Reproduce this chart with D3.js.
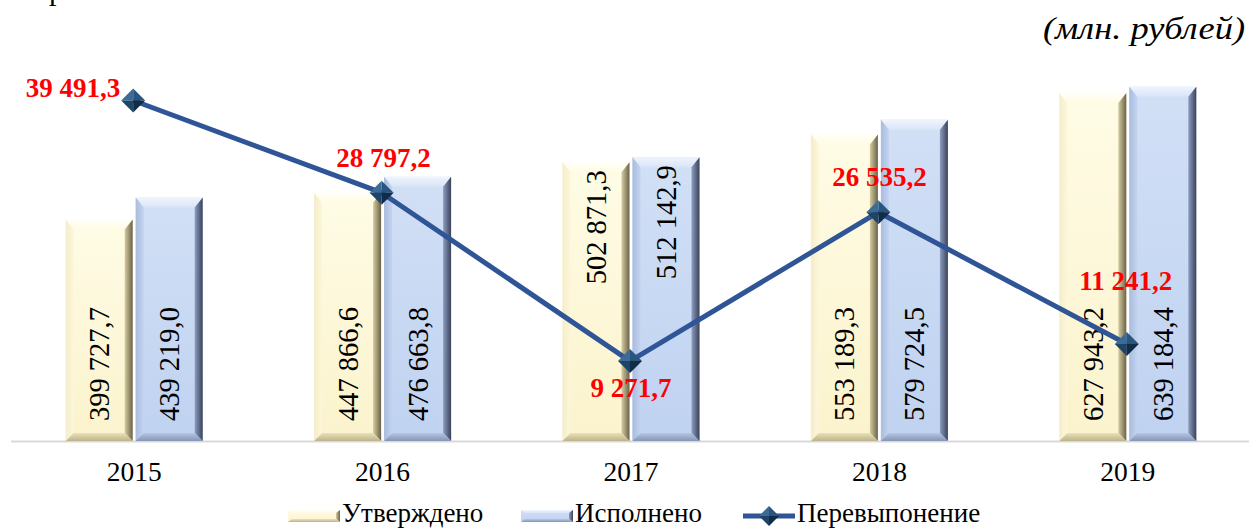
<!DOCTYPE html>
<html><head><meta charset="utf-8">
<script src="https://cdn.jsdelivr.net/npm/d3@7"></script>
<style>body{margin:0;background:#fff}svg{display:block}</style>
</head><body>
<svg id="c" width="1249" height="528"></svg>
<script>
const years = ["2015","2016","2017","2018","2019"];
const approved = [399727.7, 447866.6, 502871.3, 553189.3, 627943.2];
const executed = [439219.0, 476663.8, 512142.9, 579724.5, 639184.4];
const overrun = [39491.3, 28797.2, 9271.7, 26535.2, 11241.2];
const seriesNames = ["Утверждено", "Исполнено", "Перевыпонение"];
const unitLabel = "(млн. рублей)";

(function(){
const FONT = "'Liberation Serif', 'Times New Roman', serif";
const fmt = v => {
  const s = v.toFixed(1).split(".");
  return s[0].replace(/\B(?=(\d{3})+(?!\d))/g, " ") + "," + s[1];
};

const svg = d3.select("#c");
const base = 441, plotTop = 53;
const x = d3.scaleBand().domain(years).range([10, 1252]);
const y = d3.scaleLinear().domain([0, 700000]).range([base, plotTop]);
const y2 = d3.scaleLinear().domain([0, 45000]).range([base, plotTop]);

const defs = svg.append("defs");
function lg(id, stops, x1, y1, x2, y2v) {
  const g = defs.append("linearGradient").attr("id", id)
    .attr("x1", x1).attr("y1", y1).attr("x2", x2).attr("y2", y2v);
  stops.forEach(s => g.append("stop").attr("offset", s[0]).attr("stop-color", s[1]));
}
const pal = [
  {face:["#FFFCE6","#FBF3CC"], top:["#FFFFFA","#FFFBE2"], left:["#F4EDCB","#FDF7DA"], right:["#D6CCA0","#6A6248"], bottom:["#E9E1B8","#BDB38A"]},
  {face:["#D2E0F6","#BFD2F0"], top:["#F0F5FD","#D8E4F8"], left:["#A9BCDD","#C3D4F0"], right:["#8D9EC0","#39425A"], bottom:["#B5C6E4","#8595B5"]}
];
pal.forEach((p,i) => {
  lg("face"+i, [[0,p.face[0]],[1,p.face[1]]], 0,0,0,1);
  lg("top"+i, [[0,p.top[0]],[1,p.top[1]]], 0,0,0,1);
  lg("left"+i, [[0,p.left[0]],[1,p.left[1]]], 0,0,1,0);
  lg("right"+i, [[0,p.right[0]],[1,p.right[1]]], 0,0,1,0);
  lg("bottom"+i, [[0,p.bottom[0]],[1,p.bottom[1]]], 0,0,0,1);
});

function bevelBar(g, x0, y0, w, h, i) {
  const b = 8, bt = Math.min(10, h/2), bb = 8;
  const x1 = x0 + w, y1 = y0 + h;
  g.append("rect").attr("x", x0).attr("y", y0).attr("width", w).attr("height", h).attr("fill", `url(#face${i})`);
  g.append("polygon").attr("points", [[x0,y0],[x1,y0],[x1-b,y0+bt],[x0+b,y0+bt]].join(" ")).attr("fill", `url(#top${i})`);
  g.append("polygon").attr("points", [[x0,y0],[x0+b,y0+bt],[x0+b,y1-bb],[x0,y1]].join(" ")).attr("fill", `url(#left${i})`);
  g.append("polygon").attr("points", [[x1,y0],[x1,y1],[x1-b,y1-bb],[x1-b,y0+bt]].join(" ")).attr("fill", `url(#right${i})`);
  g.append("polygon").attr("points", [[x0,y1],[x0+b,y1-bb],[x1-b,y1-bb],[x1,y1]].join(" ")).attr("fill", `url(#bottom${i})`);
}

svg.append("line").attr("x1", 11).attr("x2", 1249).attr("y1", base+0.5).attr("y2", base+0.5)
  .attr("stroke", "#d9d9d9").attr("stroke-width", 2);

const barW = 67, gap = 1.5;
const series = [approved, executed];
const labelTop = {"2017": true};
series.forEach((vals, i) => {
  years.forEach((yr, k) => {
    const c = x(yr) + x.bandwidth()/2;
    const bx = i === 0 ? c - gap - barW : c + gap;
    const by = y(vals[k]);
    const g = svg.append("g");
    bevelBar(g, bx, by, barW, base - by, i);
    const tx = bx + barW/2;
    let t;
    if (labelTop[yr]) {
      t = g.append("text").attr("transform", `translate(${tx},${by+8}) rotate(-90)`).attr("text-anchor", "end");
    } else {
      t = g.append("text").attr("transform", `translate(${tx},${base-20}) rotate(-90)`).attr("text-anchor", "start");
    }
    t.attr("dy", "0.35em").attr("font-family", FONT)
      .attr("font-size", 28.5).attr("fill", "#000").text(fmt(vals[k]));
  });
});

years.forEach(yr => {
  svg.append("text").attr("x", x(yr) + x.bandwidth()/2).attr("y", 481)
    .attr("text-anchor", "middle").attr("font-family", FONT)
    .attr("font-size", 27.5).text(yr);
});

const pts = years.map((yr, k) => [x(yr) + x.bandwidth()/2 - 1, y2(overrun[k])]);
svg.append("path").attr("d", d3.line()(pts)).attr("fill", "none")
  .attr("stroke", "#2F5597").attr("stroke-width", 5).attr("stroke-linejoin", "round");

function diamond(g, cx, cy, r) {
  g.append("polygon").attr("points", [[cx,cy-r],[cx-r,cy],[cx,cy]].join(" ")).attr("fill", "#3C6B98");
  g.append("polygon").attr("points", [[cx,cy-r],[cx+r,cy],[cx,cy]].join(" ")).attr("fill", "#2A557F");
  g.append("polygon").attr("points", [[cx-r,cy],[cx,cy+r],[cx,cy]].join(" ")).attr("fill", "#1E4468");
  g.append("polygon").attr("points", [[cx+r,cy],[cx,cy+r],[cx,cy]].join(" ")).attr("fill", "#112C47");
}
pts.forEach(p => diamond(svg, p[0], p[1], 12));

const lblOff = [[-13, -3, "end"], [2, -26, "middle"], [1, 36, "middle"], [1, -26, "middle"], [-1, -54, "middle"]];
pts.forEach((p, k) => {
  const o = lblOff[k];
  svg.append("text").attr("x", p[0] + o[0]).attr("y", p[1] + o[1])
    .attr("text-anchor", o[2]).attr("font-family", FONT)
    .attr("font-weight", "bold").attr("font-size", 27).attr("fill", "#FF0000")
    .text(fmt(overrun[k]));
});

svg.append("text").attr("x", 1043).attr("y", 39)
  .attr("font-family", FONT).attr("font-style", "italic")
  .attr("font-size", 32).attr("textLength", 202).attr("lengthAdjust", "spacingAndGlyphs")
  .text(unitLabel);
svg.append("text").attr("x", 49).attr("y", 0).attr("font-family", FONT)
  .attr("font-size", 30).text("р");

const ly = 516;
const lg1 = svg.append("g");
function legendBar(gx, i) {
  const g = lg1.append("g");
  const w = 52, h = 12, x0 = gx, y0 = ly - 6, b = 4;
  g.append("rect").attr("x", x0).attr("y", y0).attr("width", w).attr("height", h).attr("fill", `url(#face${i})`);
  g.append("polygon").attr("points", [[x0,y0],[x0+w,y0],[x0+w-b,y0+3],[x0+b,y0+3]].join(" ")).attr("fill", `url(#top${i})`);
  g.append("polygon").attr("points", [[x0+w,y0],[x0+w,y0+h],[x0+w-b,y0+h-3],[x0+w-b,y0+3]].join(" ")).attr("fill", `url(#right${i})`);
  g.append("polygon").attr("points", [[x0,y0+h],[x0+b,y0+h-3],[x0+w-b,y0+h-3],[x0+w,y0+h]].join(" ")).attr("fill", `url(#bottom${i})`);
}
legendBar(288, 0);
legendBar(521, 1);
lg1.append("line").attr("x1", 743).attr("x2", 795).attr("y1", ly).attr("y2", ly).attr("stroke", "#2F5597").attr("stroke-width", 5);
diamond(lg1, 769, ly, 10);
const lx = [342, 575, 797];
seriesNames.forEach((n, i) => {
  lg1.append("text").attr("x", lx[i]).attr("y", 522).attr("font-family", FONT)
    .attr("font-size", 27).text(n);
});
})();
</script>
</body></html>
